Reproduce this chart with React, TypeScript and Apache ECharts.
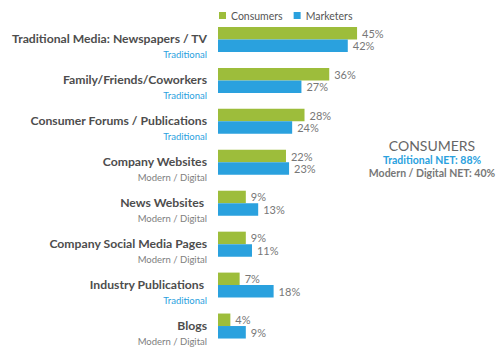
import React, { useEffect, useRef } from "react";
import * as echarts from "echarts";

const categories = [
  "Traditional Media: Newspapers / TV",
  "Family/Friends/Coworkers",
  "Consumer Forums / Publications",
  "Company Websites",
  "News Websites ",
  "Company Social Media Pages",
  "Industry Publications ",
  "Blogs",
];
const categoryTypes = [
  "Traditional",
  "Traditional",
  "Traditional",
  "Modern / Digital",
  "Modern / Digital",
  "Modern / Digital",
  "Traditional",
  "Modern / Digital",
];
const consumers = [45, 36, 28, 22, 9, 9, 7, 4];
const marketers = [42, 27, 24, 23, 13, 11, 18, 9];
const sideTitle = "CONSUMERS";
const sideLines = ["Traditional NET: 88%", "Modern / Digital NET: 40%"];

const GREEN = "#9dbd3b";
const BLUE = "#2aa1de";
const FONT = "Lato";

export default function App() {
  const ref = useRef<HTMLDivElement>(null);
  useEffect(() => {
    document.body.style.margin = "0";
    if (!ref.current) return;
    const chart = echarts.init(ref.current, null, { renderer: "svg" });
    chart.setOption({
      animation: false,
      textStyle: { fontFamily: FONT },
      legend: {
        top: 5,
        left: 214,
        itemWidth: 7,
        itemHeight: 7,
        itemGap: 11,
        icon: "rect",
        textStyle: { fontFamily: FONT, fontSize: 10.5, color: "#555" },
        data: ["Consumers", "Marketers"],
      },
      grid: { left: 218, width: 247.2, top: 19, bottom: 4.5 },
      xAxis: { type: "value", min: 0, max: 80, show: false, splitLine: { show: false } },
      yAxis: {
        type: "category",
        inverse: true,
        data: categories,
        axisLine: { show: false },
        axisTick: { show: false },
        axisLabel: {
          margin: 11,
          padding: [14, 0, 0, 0],
          formatter: (v: string, i: number) => {
            const t = categoryTypes[i];
            const st = t === "Traditional" ? "t" : "m";
            return `{a|${v}}\n{${st}|${t}}`;
          },
          rich: {
            a: { fontFamily: FONT, fontSize: 12.2, fontWeight: "bold", color: "#4d4d4d", lineHeight: 16, align: "right" },
            t: { fontFamily: FONT, fontSize: 9.5, color: BLUE, lineHeight: 15, align: "right" },
            m: { fontFamily: FONT, fontSize: 9.5, color: "#808080", lineHeight: 15, align: "right" },
          },
        },
      },
      graphic: [
        {
          type: "text",
          x: 432,
          y: 145,
          style: { text: sideTitle, fontFamily: FONT, fontSize: 14, fill: "#666", align: "center", verticalAlign: "middle" },
        },
        {
          type: "text",
          x: 432,
          y: 160,
          style: { text: sideLines[0], fontFamily: FONT, fontSize: 10.5, fontWeight: "bold", fill: BLUE, align: "center", verticalAlign: "middle" },
        },
        {
          type: "text",
          x: 432,
          y: 173,
          style: { text: sideLines[1], fontFamily: FONT, fontSize: 10.5, fontWeight: "bold", fill: "#777", align: "center", verticalAlign: "middle" },
        },
      ],
      series: [
        {
          name: "Consumers",
          type: "bar",
          data: consumers,
          barWidth: 12.5,
          barGap: "0%",
          itemStyle: { color: GREEN },
          label: { show: true, position: "right", distance: 5, formatter: "{c}%", fontFamily: FONT, fontSize: 11, color: "#777" },
        },
        {
          name: "Marketers",
          type: "bar",
          data: marketers,
          barWidth: 12.5,
          barGap: "0%",
          itemStyle: { color: BLUE },
          label: { show: true, position: "right", distance: 5, formatter: "{c}%", fontFamily: FONT, fontSize: 11, color: "#777" },
        },
      ],
    });
    return () => chart.dispose();
  }, []);
  return <div ref={ref} style={{ width: 500, height: 351 }} />;
}
